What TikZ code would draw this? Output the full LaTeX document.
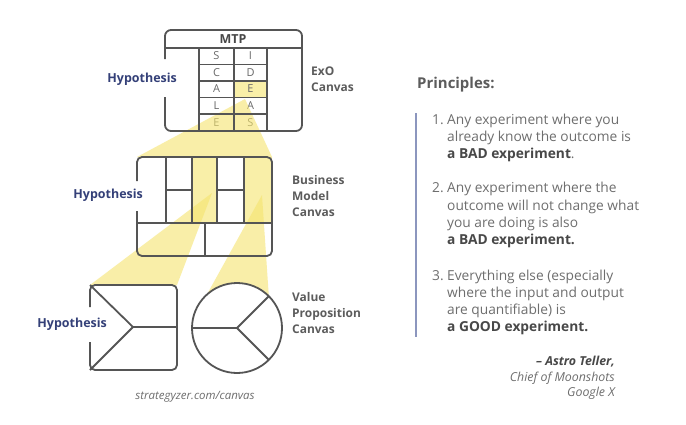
\documentclass[tikz,border=0pt]{standalone}
\usepackage{fontspec}
\setmainfont{Open Sans}
\usetikzlibrary{calc}
\definecolor{ln}{RGB}{85,85,85}
\definecolor{navy}{RGB}{52,64,120}
\definecolor{lbl}{RGB}{92,92,92}
\definecolor{bodyc}{RGB}{110,110,110}
\definecolor{boldc}{RGB}{72,72,72}
\definecolor{beam}{RGB}{245,228,110}
\definecolor{cell}{RGB}{249,239,168}
\definecolor{bar}{RGB}{140,150,190}
\definecolor{ltr}{RGB}{105,105,105}
\begin{document}
\begin{tikzpicture}[x=1bp,y=-1bp,
  cv/.style={draw=ln,line width=1.8bp},
  beamfill/.style={fill=beam,fill opacity=0.6},
  hyp/.style={anchor=east,inner sep=0pt,text=navy,font=\fontsize{12.5}{14}\selectfont\bfseries},
  clabel/.style={anchor=west,inner sep=0pt,text=lbl,align=left,font=\fontsize{12}{16}\selectfont\bfseries},
  ltrs/.style={inner sep=0pt,text=ltr,font=\fontsize{11}{12}\selectfont},
  bodyl/.style={anchor=base west,inner sep=0pt,text=bodyc,font=\fontsize{13.8}{17}\selectfont},
  attr/.style={anchor=base east,inner sep=0pt,text=bodyc,font=\fontsize{12.4}{15}\selectfont\itshape}]
\useasboundingbox (0,0) rectangle (686,424);
\fill[white] (0,0) rectangle (686,424);

% ---------- ExO canvas ----------
\fill[cell] (234,81) rectangle (267,97.5);
\node[ltrs] (s1) at (216.5,56) {S};
\node[ltrs] (i1) at (250.5,56) {I};
\node[ltrs] (c1) at (216.5,73) {C};
\node[ltrs] (d1) at (250.5,73) {D};
\node[ltrs] (a1) at (216.5,89) {A};
\node[ltrs] (e1) at (250.5,89) {E};
\node[ltrs] (l1) at (216.5,106) {L};
\node[ltrs] (a2) at (250.5,106) {A};
\node[ltrs] (e2) at (216.5,122.5) {E};
\node[ltrs] (s2) at (250.5,122.5) {S};
\node[inner sep=0pt,text=boldc,font=\fontsize{12.5}{14}\selectfont\bfseries] (mtp) at (233,39.5) {MTP};

% beam from ExO to BMC
\coordinate (b0a) at (245,99);
\coordinate (bmcTL) at (137,157);
\coordinate (bmcTR) at (272,157);
\fill[beamfill] (b0a) -- (bmcTR) -- (bmcTL) -- cycle;

\draw[cv,rounded corners=6bp] (165,59) -- (165,30) -- (302,30) -- (302,131) -- (165,131) -- (165,97);
\draw[cv] (165,48) -- (302,48);
\draw[cv] (199,48) -- (199,131) (234,48) -- (234,131) (267,48) -- (267,131);
\draw[cv] (199,64.5) -- (267,64.5) (199,81) -- (267,81) (199,97.5) -- (267,97.5) (199,114) -- (267,114);

\node[hyp] (h1) at (177,79) {Hypothesis};
\node[clabel] (exo) at (311,79.5) {ExO\\Canvas};

% ---------- Business Model Canvas ----------
\fill[cell] (192,157) rectangle (217,223);
\fill[cell] (244,157) rectangle (272,223);

% beams to VPC
\coordinate (b1a) at (212,193);
\coordinate (b2a) at (262,195);
\coordinate (sqTL) at (90,285);
\coordinate (sqTR) at (177,285);
\fill[beamfill] (b1a) -- (sqTR) -- (sqTL) -- cycle;
\coordinate (vc) at (237,328);
\fill[beamfill] (b2a) -- ($(vc)+(-45:45)$) -- (vc) -- ($(vc)+(-132:45)$) -- cycle;

\draw[cv,rounded corners=5bp] (137,181) -- (137,157) -- (272,157) -- (272,256) -- (137,256) -- (137,211);
\draw[cv] (137,223) -- (272,223);
\draw[cv] (166,157) -- (166,223) (192,157) -- (192,223) (217,157) -- (217,223) (244,157) -- (244,223);
\draw[cv] (166,190) -- (192,190) (217,190) -- (244,190);
\draw[cv] (205,223) -- (205,256);

\node[hyp] (h2) at (143,195) {Hypothesis};
\node[clabel] (bmc) at (292,196) {Business\\Model\\Canvas};

% ---------- Value Proposition Canvas ----------
\fill[white,rounded corners=5bp] (90,285) rectangle (177,370);
\draw[cv,rounded corners=5bp] (90,307) -- (90,285) -- (177,285) -- (177,370) -- (90,370) -- (90,342);
\coordinate (sqv) at (133,327);
\draw[cv] (90,285) -- (sqv) -- (90,370);
\draw[cv] (sqv) -- (177,327);

\fill[white] (vc) circle[radius=45];
\draw[cv] (vc) circle[radius=45];
\draw[cv] (vc) -- ++(180:45);
\draw[cv] (vc) -- ($(vc)+(-45:45)$);
\draw[cv] (vc) -- ($(vc)+(45:45)$);

\node[hyp] (h3) at (107,324) {Hypothesis};
\node[clabel] (vpc) at (292,313) {Value\\Proposition\\Canvas};

\node[inner sep=0pt,text=bodyc,font=\fontsize{11.5}{13}\selectfont\itshape] (src) at (195,397) {strategyzer.com/canvas};

% ---------- Principles ----------
\node[anchor=west,inner sep=0pt,text=lbl,font=\fontsize{15}{17}\selectfont\bfseries] (pr) at (417,85) {Principles:};
\coordinate (bart) at (416,113);
\coordinate (barb) at (416,337);
\draw[bar,line width=2bp] (bart) -- (barb);

\node[bodyl] (n1) at (432,124) {1.};
\node[bodyl] (t11) at (447,124) {Any experiment where you};
\node[bodyl] (t12) at (447,141) {already know the outcome is};
\node[bodyl] (t13) at (447,158) {\textcolor{boldc}{\bfseries a BAD experiment}.};

\node[bodyl] (n2) at (432,192) {2.};
\node[bodyl] (t21) at (447,192) {Any experiment where the};
\node[bodyl] (t22) at (447,210) {outcome will not change what};
\node[bodyl] (t23) at (447,227) {you are doing is also};
\node[bodyl] (t24) at (447,244) {\textcolor{boldc}{\bfseries a BAD experiment.}};

\node[bodyl] (n3) at (432,280) {3.};
\node[bodyl] (t31) at (447,280) {Everything else (especially};
\node[bodyl] (t32) at (447,297) {where the input and output};
\node[bodyl] (t33) at (447,314) {are quantifiable) is};
\node[bodyl] (t34) at (447,331) {\textcolor{boldc}{\bfseries a GOOD experiment.}};

\node[attr] (q1) at (615,365) {\textcolor{boldc}{\bfseries – Astro Teller,}};
\node[attr] (q2) at (615,381) {Chief of Moonshots};
\node[attr] (q3) at (615,396) {Google X};
\end{tikzpicture}
\end{document}
